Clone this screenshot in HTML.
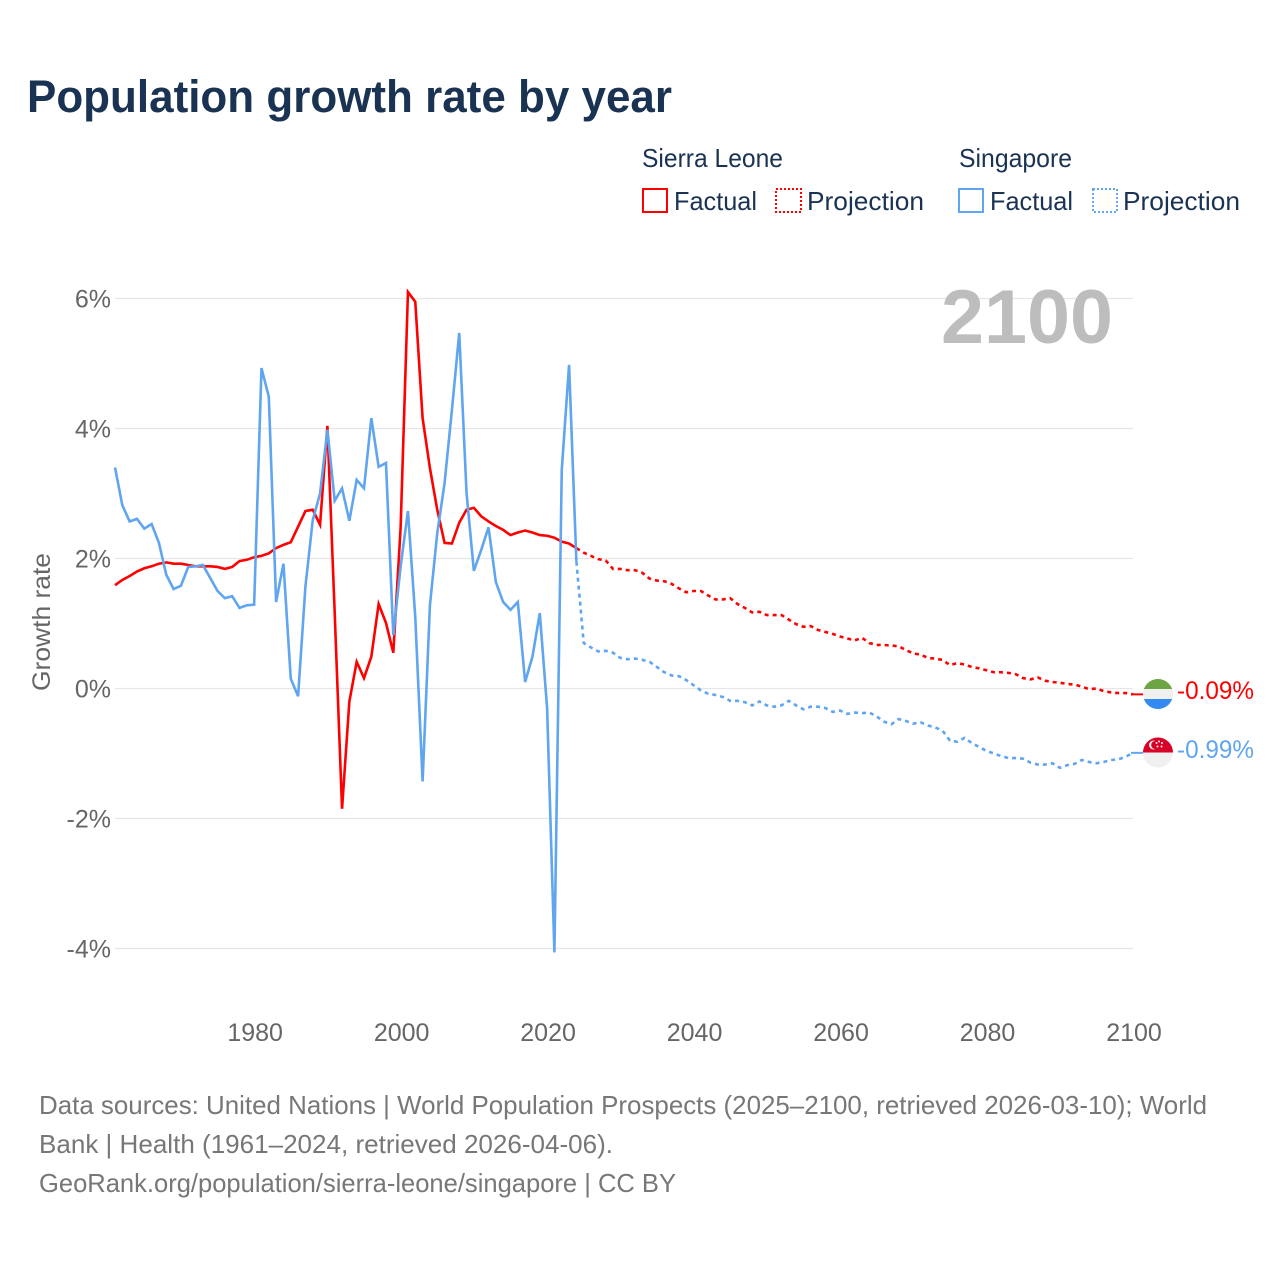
<!DOCTYPE html>
<html lang="en">
<head>
<meta charset="utf-8">
<title>Population growth rate by year</title>
<style>
html,body{margin:0;padding:0;background:#fff;}
#chart{display:block;width:1280px;height:1280px;font-family:"Liberation Sans",Arial,sans-serif;}
</style>
</head>
<body>
<svg id="chart" xmlns="http://www.w3.org/2000/svg" width="1280" height="1280" viewBox="0 0 1280 1280">
  <defs>
    <clipPath id="flag-clip-a"><circle cx="1158" cy="694" r="15"/></clipPath>
    <clipPath id="flag-clip-b"><circle cx="1158" cy="752.5" r="15"/></clipPath>
  </defs>
  <rect x="0" y="0" width="1280" height="1280" fill="#fff"/>
  <text x="27" y="112" font-size="45" font-weight="700" fill="#1a3353" textLength="645" lengthAdjust="spacingAndGlyphs">Population growth rate by year</text>

  <g font-size="26" fill="#1a3353">
    <text x="642" y="167" textLength="141" lengthAdjust="spacingAndGlyphs">Sierra Leone</text>
    <rect x="643" y="189" width="24" height="23" fill="none" stroke="#ff0000" stroke-width="2"/>
    <text x="674" y="210" textLength="83" lengthAdjust="spacingAndGlyphs">Factual</text>
    <rect x="776" y="189" width="25" height="23" fill="none" stroke="#ff0000" stroke-width="2" stroke-dasharray="2 2"/>
    <text x="807" y="210" textLength="117" lengthAdjust="spacingAndGlyphs">Projection</text>
    <text x="959" y="167" textLength="113" lengthAdjust="spacingAndGlyphs">Singapore</text>
    <rect x="959" y="189" width="24" height="23" fill="none" stroke="#60a5ef" stroke-width="2"/>
    <text x="990" y="210" textLength="83" lengthAdjust="spacingAndGlyphs">Factual</text>
    <rect x="1093" y="189" width="24" height="23" fill="none" stroke="#60a5ef" stroke-width="2" stroke-dasharray="2 2"/>
    <text x="1123" y="210" textLength="117" lengthAdjust="spacingAndGlyphs">Projection</text>
  </g>

  <g id="grid"></g>
  <g id="y-ticks" font-size="25" fill="#666" text-anchor="end"></g>
  <g id="x-ticks" font-size="25" fill="#666" text-anchor="middle"></g>
  <text transform="translate(50 622) rotate(-90)" font-size="25" fill="#666" text-anchor="middle" textLength="138" lengthAdjust="spacingAndGlyphs">Growth rate</text>
  <text x="941" y="343" font-size="76" font-weight="700" fill="#bdbdbd" textLength="172" lengthAdjust="spacingAndGlyphs">2100</text>

  <g id="series"></g>

  <g clip-path="url(#flag-clip-a)">
    <rect x="1143" y="679" width="30" height="10" fill="#6da544"/>
    <rect x="1143" y="689" width="30" height="10" fill="#f0f0f0"/>
    <rect x="1143" y="699" width="30" height="10" fill="#338af3"/>
  </g>
  <g clip-path="url(#flag-clip-b)">
    <rect x="1143" y="737.5" width="30" height="15" fill="#d80027"/>
    <rect x="1143" y="752.5" width="30" height="15" fill="#f0f0f0"/>
    <circle cx="1153.5" cy="745" r="4.5" fill="#f0f0f0"/>
    <circle cx="1155.2" cy="745" r="4" fill="#d80027"/>
    <circle cx="1159" cy="741.5" r="1" fill="#f0f0f0"/>
    <circle cx="1162" cy="743" r="1" fill="#f0f0f0"/>
    <circle cx="1161.5" cy="746.5" r="1" fill="#f0f0f0"/>
    <circle cx="1157.5" cy="746.5" r="1" fill="#f0f0f0"/>
    <circle cx="1156.5" cy="743" r="1" fill="#f0f0f0"/>
  </g>
  <text x="1177" y="699" font-size="25" fill="#ff0000" textLength="77" lengthAdjust="spacingAndGlyphs">-0.09%</text>
  <text x="1177" y="758" font-size="25" fill="#60a5ef" textLength="77" lengthAdjust="spacingAndGlyphs">-0.99%</text>

  <g font-size="26" fill="#777">
    <text x="39" y="1114" textLength="1168" lengthAdjust="spacingAndGlyphs">Data sources: United Nations | World Population Prospects (2025–2100, retrieved 2026-03-10); World</text>
    <text x="39" y="1153" textLength="574" lengthAdjust="spacingAndGlyphs">Bank | Health (1961–2024, retrieved 2026-04-06).</text>
    <text x="39" y="1192" textLength="637" lengthAdjust="spacingAndGlyphs">GeoRank.org/population/sierra-leone/singapore | CC BY</text>
  </g>
</svg>
<script>
const factualStartYear = 1961;
const projectionStartYear = 2024;
const yTickValues = [6, 4, 2, 0, -2, -4];
const yTickLabels = ["6%", "4%", "2%", "0%", "-2%", "-4%"];
const xTickYears = [1980, 2000, 2020, 2040, 2060, 2080, 2100];
const xTickLabels = ["1980", "2000", "2020", "2040", "2060", "2080", "2100"];

const sierraLeoneFactual = [
  1.59,1.67,1.73,1.80,1.85,1.88,1.92,1.94,1.92,1.92,
  1.90,1.88,1.88,1.88,1.87,1.84,1.87,1.96,1.98,2.02,
  2.04,2.08,2.16,2.21,2.25,2.49,2.73,2.75,2.52,4.04,
  1.16,-1.85,-0.20,0.41,0.16,0.49,1.30,1.01,0.55,2.48,
  6.10,5.95,4.16,3.39,2.75,2.24,2.23,2.55,2.75,2.78,
  2.65,2.57,2.50,2.44,2.36,2.40,2.43,2.40,2.36,2.35,
  2.32,2.26,2.23,2.16
];
const sierraLeoneProjection = [
  2.16,2.09,2.04,1.99,1.97,1.84,1.84,1.82,1.82,1.78,
  1.69,1.66,1.65,1.61,1.54,1.48,1.50,1.50,1.43,1.37,
  1.37,1.39,1.30,1.24,1.17,1.18,1.13,1.13,1.13,1.06,
  0.99,0.95,0.96,0.90,0.87,0.84,0.80,0.77,0.74,0.78,
  0.70,0.67,0.67,0.66,0.65,0.59,0.54,0.52,0.47,0.46,
  0.44,0.36,0.39,0.37,0.33,0.31,0.28,0.25,0.25,0.24,
  0.22,0.16,0.14,0.17,0.12,0.10,0.09,0.07,0.06,0.03,
  -0.01,0.00,-0.04,-0.06,-0.07,-0.07,-0.09
];
const singaporeFactual = [
  3.40,2.82,2.57,2.61,2.46,2.53,2.24,1.75,1.53,1.58,
  1.87,1.88,1.90,1.70,1.50,1.39,1.42,1.24,1.28,1.29,
  4.93,4.49,1.33,1.92,0.15,-0.12,1.57,2.59,3.00,3.98,
  2.89,3.08,2.58,3.21,3.08,4.16,3.41,3.47,0.82,1.88,
  2.73,1.10,-1.43,1.28,2.39,3.16,4.28,5.47,3.01,1.81,
  2.13,2.48,1.64,1.33,1.21,1.33,0.10,0.49,1.16,-0.30,
  -4.06,3.36,4.98,1.95
];
const singaporeProjection = [
  1.95,0.70,0.63,0.57,0.58,0.55,0.47,0.45,0.46,0.44,
  0.41,0.33,0.25,0.20,0.19,0.13,0.05,-0.03,-0.08,-0.10,
  -0.13,-0.19,-0.19,-0.21,-0.26,-0.20,-0.26,-0.28,-0.26,-0.19,
  -0.26,-0.32,-0.28,-0.28,-0.30,-0.36,-0.34,-0.39,-0.37,-0.38,
  -0.37,-0.43,-0.51,-0.55,-0.47,-0.50,-0.54,-0.52,-0.57,-0.60,
  -0.65,-0.80,-0.82,-0.76,-0.84,-0.90,-0.96,-1.00,-1.04,-1.07,
  -1.07,-1.08,-1.14,-1.17,-1.17,-1.15,-1.22,-1.18,-1.16,-1.10,
  -1.13,-1.15,-1.13,-1.10,-1.09,-1.05,-0.99
];

const SVG_NS = "http://www.w3.org/2000/svg";
function xScale(year) { return 115 + (year - 1961) * (1133 - 115) / 139; }
function yScale(value) { return 688.5 - value * 65; }
function linePoints(startYear, values) {
  return values.map(function (v, i) {
    return xScale(startYear + i).toFixed(2) + "," + yScale(v).toFixed(2);
  }).join(" ");
}

const gridGroup = document.getElementById("grid");
const yTickGroup = document.getElementById("y-ticks");
const xTickGroup = document.getElementById("x-ticks");
const seriesGroup = document.getElementById("series");

yTickValues.forEach(function (value, i) {
  const line = document.createElementNS(SVG_NS, "line");
  
  
  line.setAttribute("x1", 115);
  line.setAttribute("x2", 1133);
  line.setAttribute("y1", yScale(value));
  line.setAttribute("y2", yScale(value));
  line.setAttribute("stroke", "#e6e6e6");
  line.setAttribute("stroke-width", "1.3");
  gridGroup.appendChild(line);

  const label = document.createElementNS(SVG_NS, "text");
  
  
  label.setAttribute("x", 111);
  label.setAttribute("y", yScale(value) + 9);
  label.textContent = yTickLabels[i];
  yTickGroup.appendChild(label);
});

xTickYears.forEach(function (year, i) {
  const label = document.createElementNS(SVG_NS, "text");
  
  
  label.setAttribute("x", xScale(year) + 1);
  label.setAttribute("y", 1041);
  label.textContent = xTickLabels[i];
  xTickGroup.appendChild(label);
});

function addLine(name, startYear, values, color, dashed) {
  const path = document.createElementNS(SVG_NS, "polyline");
  
  
  path.setAttribute("points", linePoints(startYear, values));
  path.setAttribute("fill", "none");
  path.setAttribute("stroke", color);
  path.setAttribute("stroke-width", "2.6");
  path.setAttribute("stroke-linejoin", "miter");
  if (dashed) { path.setAttribute("stroke-dasharray", "4 4"); }
  seriesGroup.appendChild(path);
}

function addConnector(name, values, color) {
  const last = values[values.length - 1];
  const seg = document.createElementNS(SVG_NS, "line");
  
  
  seg.setAttribute("x1", xScale(2100) - 2);
  seg.setAttribute("x2", xScale(2100) + 10);
  seg.setAttribute("y1", yScale(last));
  seg.setAttribute("y2", yScale(last));
  seg.setAttribute("stroke", color);
  seg.setAttribute("stroke-width", "2");
  seriesGroup.appendChild(seg);
}

addLine("sierra-leone-projection-line", projectionStartYear, sierraLeoneProjection, "#ff0000", true);
addLine("sierra-leone-factual-line", factualStartYear, sierraLeoneFactual, "#ff0000", false);
addLine("singapore-projection-line", projectionStartYear, singaporeProjection, "#60a5ef", true);
addLine("singapore-factual-line", factualStartYear, singaporeFactual, "#60a5ef", false);
addConnector("sierra-leone-end-connector", sierraLeoneProjection, "#ff0000");
addConnector("singapore-end-connector", singaporeProjection, "#60a5ef");
</script>
</body>
</html>
